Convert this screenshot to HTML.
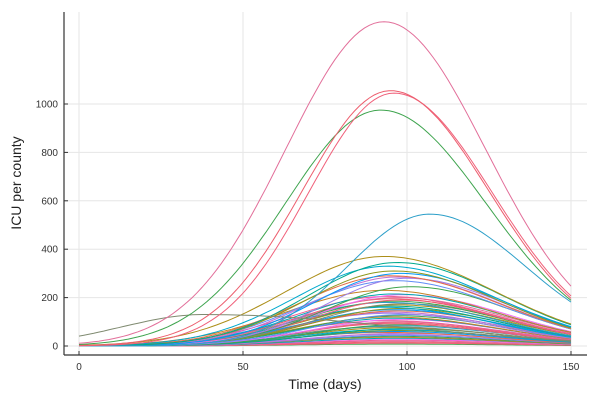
<!DOCTYPE html>
<html><head><meta charset="utf-8"><style>
body{margin:0;background:#fff}
svg text{font-family:"Liberation Sans",sans-serif}
</style></head><body>
<svg id="chart" width="600" height="400" xmlns="http://www.w3.org/2000/svg">
<g id="grid"></g>
<g id="series"></g>
<g id="axes"></g>
<text x="325" y="389" font-size="14" text-anchor="middle" fill="#222">Time (days)</text>
<text transform="translate(21,183) rotate(-90)" font-size="14" text-anchor="middle" fill="#222">ICU per county</text>
</svg>
<script>
const xTicks=[0,50,100,150];
const yTicks=[0,200,400,600,800,1000];
const peaks=[1340,1055,1045,975,545,130,370,345,330,310,300,290,285,280,270,245,230,215,212,205,200,195,190,185,180,175,170,165,160,155,150,145,140,135,130,125,120,115,110,105,100,96,92,88,84,80,76,72,68,64,60,56,52,48,44,40,36,32,28,24,20,16,12,8];
const peakDays=[93,95,96,92,107,38,93,97,94,96,98,95,97,100,96,101,93,96,99,94,97,95,98,96,94,99,97,95,93,98,96,97,95,94,99,97,95,96,98,94,97,96,95,98,97,94,96,99,95,97,96,94,98,95,97,96,95,97,96,98,95,96,97,96];
const riseW=[30,27,26,29,25,25,30,27,28,27,26,28,27,25,28,26,30,28,27,29,28,28,27,28,29,27,28,28,29,27,28,28,28,29,27,28,28,28,27,29,28,28,28,27,28,29,28,27,28,28,28,29,27,28,28,28,28,28,28,28,28,28,28,28];
const fallW=[31,30,30,32,29,60,34,32,33,32,32,33,32,31,33,31,34,33,32,33,33,33,32,33,33,32,33,33,33,32,33,33,33,33,32,33,33,33,32,33,33,33,33,32,33,33,33,32,33,33,33,33,32,33,33,33,33,33,33,33,33,33,33,33];
const palette=["#e26f9a","#ed5e6e","#f0607a","#3ea44e","#2c9fc9","#7f8a70","#ac8e18","#00a98d","#00a9cd","#8e971d","#009afa","#e36f47","#c371d2","#9b7fe9","#618df6","#3ea44e","#c68225","#00aaae","#f06df6","#ed5e93"];
const X0=79,X1=571,Y0=346,Y1000=104;
const sx=d=>X0+(d-0)*(X1-X0)/150;
const sy=v=>Y0-v*(Y0-Y1000)/1000;
const NS="http://www.w3.org/2000/svg";
const grid=document.getElementById('grid'),axes=document.getElementById('axes'),ser=document.getElementById('series');
function mk(tag,at,p){const e=document.createElementNS(NS,tag);for(const k in at)e.setAttribute(k,at[k]);p.appendChild(e);return e;}
xTicks.forEach(t=>{
 const l=mk('line',{x1:sx(t),x2:sx(t),y1:12,y2:355,stroke:'#e6e6e6','stroke-width':1},grid);
 
 
 const tk=mk('line',{x1:sx(t),x2:sx(t),y1:355,y2:351,stroke:'#333'},axes);
 
 
 const tx=mk('text',{x:sx(t),y:370,'font-size':10,'text-anchor':'middle',fill:'#333'},axes);tx.textContent=t;
 
 
});
yTicks.forEach(t=>{
 const l=mk('line',{x1:64,x2:587,y1:sy(t),y2:sy(t),stroke:'#e6e6e6','stroke-width':1},grid);
 
 
 const tk=mk('line',{x1:64,x2:68,y1:sy(t),y2:sy(t),stroke:'#333'},axes);
 
 
 const tx=mk('text',{x:58,y:sy(t)+3.5,'font-size':10,'text-anchor':'end',fill:'#333'},axes);tx.textContent=t;
 
 
});
const ax1=mk('line',{x1:64,x2:64,y1:12,y2:355,stroke:'#333','stroke-width':1.2},axes);


const ax2=mk('line',{x1:64,x2:587,y1:355,y2:355,stroke:'#333','stroke-width':1.2},axes);


for(let i=peaks.length-1;i>=0;i--){
 let d='';
 for(let t=0;t<=150;t+=1.5){
  const w=t<peakDays[i]?riseW[i]:fallW[i];
  const v=peaks[i]*Math.exp(-Math.pow(t-peakDays[i],2)/(2*w*w));
  d+=(t===0?'M':'L')+sx(t).toFixed(1)+' '+sy(v).toFixed(1);
 }
 const p=mk('path',{d:d,fill:'none',stroke:palette[i%palette.length],'stroke-width':1},ser);
 
 
}
</script>
</body></html>
